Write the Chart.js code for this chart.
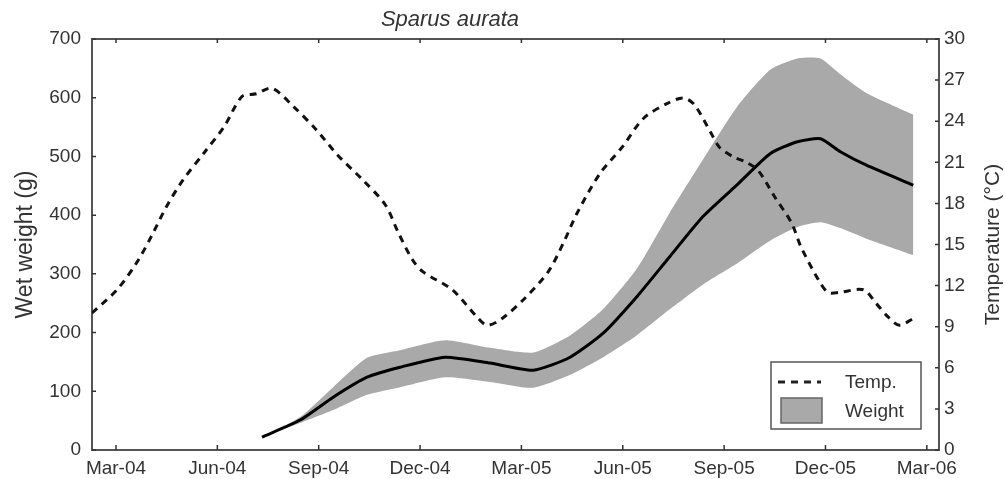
<!DOCTYPE html>
<html>
<head>
<meta charset="utf-8">
<title>Sparus aurata</title>
<script src="https://cdn.jsdelivr.net/npm/chart.js@4.4.1/dist/chart.umd.min.js"></script>
<style>
  html, body { margin: 0; padding: 0; background: #fff; }
  canvas { display: block; }
</style>
</head>
<body>
<canvas id="fishChart" width="1006" height="479"></canvas>
<script>
// x values are months counted from Jan-04 (Jan-04 = 0)
var tickMonths = [2, 5, 8, 11, 14, 17, 20, 23, 26];
var tickLabels = ['Mar-04', 'Jun-04', 'Sep-04', 'Dec-04', 'Mar-05', 'Jun-05', 'Sep-05', 'Dec-05', 'Mar-06'];

// water temperature (deg C)
var tempMonths = [1.29, 2.03, 2.62, 3.07, 3.48, 3.98, 4.61, 5.20, 5.73, 6.15, 6.62, 7.24, 7.92, 8.57, 9.31, 9.97,
    10.35, 10.77, 11.09, 11.95, 12.69, 12.99, 13.43, 14.11, 14.79, 15.24, 15.65, 16.33, 16.98, 17.61, 18.32,
    18.79, 19.12, 19.62, 19.86, 20.27, 20.66, 21.01, 21.49, 21.99, 22.28, 22.82, 23.08, 23.41, 24.12, 24.50,
    24.86, 25.19, 25.60];
var tempValues = [10.0, 11.7, 13.7, 15.7, 17.7, 19.7, 21.7, 23.6, 25.8, 26.0, 26.4, 25.1, 23.4, 21.5, 19.7, 17.9,
    15.9, 13.9, 13.0, 11.7, 9.7, 9.1, 9.6, 11.1, 13.0, 15.1, 17.3, 20.2, 22.1, 24.2, 25.3,
    25.7, 25.2, 23.1, 22.1, 21.4, 21.0, 20.4, 18.5, 16.6, 14.8, 12.3, 11.5, 11.5, 11.7, 10.7,
    9.7, 9.1, 9.6];

// wet weight (g): mean and envelope
var weightMonths = [6.32, 7.45, 8.43, 9.43, 10.41, 11.74, 13.07, 14.35, 15.44, 16.42, 17.43, 18.40, 19.38,
    20.39, 21.37, 22.17, 22.85, 23.44, 24.21, 25.60];
var weightMean  = [22, 51, 90, 124, 141, 158, 148, 136, 158, 199, 262, 330, 398, 452, 505, 525, 530, 508, 485, 451];
var weightUpper = [22, 56, 107, 157, 170, 187, 174, 166, 195, 240, 310, 405, 495, 585, 648, 667, 667, 640, 608, 571];
var weightLower = [22, 46, 68, 94, 107, 124, 116, 106, 128, 158, 196, 240, 282, 318, 357, 380, 388, 378, 360, 332];

var FONT = "'Liberation Sans', Arial, sans-serif";
var TEXT = '#333';
var AXIS = '#555';
var BAND = '#a9a9a9';

function pts(xs, ys) {
    return xs.map(function(x, i) { return { x: x, y: ys[i] }; });
}

// frame on top, inward tick marks, title, right axis title and the legend box
var decorPlugin = {
    id: 'decor',
    afterDraw: function(chart) {
        var ctx = chart.ctx;
        var a = chart.chartArea;
        var sx = chart.scales.x, sy = chart.scales.y, sy2 = chart.scales.y2;
        ctx.save();
        ctx.strokeStyle = AXIS;
        ctx.lineWidth = 2;
        ctx.beginPath();
        ctx.moveTo(a.left - 1, a.top);
        ctx.lineTo(a.right + 1, a.top);
        ctx.stroke();

        ctx.lineWidth = 1.5;
        ctx.strokeStyle = '#333';
        ctx.beginPath();
        tickMonths.forEach(function(m) {
            var px = sx.getPixelForValue(m);
            ctx.moveTo(px, a.bottom); ctx.lineTo(px, a.bottom - 5);
            ctx.moveTo(px, a.top); ctx.lineTo(px, a.top + 4);
        });
        sy.ticks.forEach(function(t) {
            var py = sy.getPixelForValue(t.value);
            ctx.moveTo(a.left, py); ctx.lineTo(a.left + 4, py);
        });
        sy2.ticks.forEach(function(t) {
            var py = sy2.getPixelForValue(t.value);
            ctx.moveTo(a.right, py); ctx.lineTo(a.right - 4, py);
        });
        ctx.stroke();

        // title
        ctx.fillStyle = TEXT;
        ctx.font = 'italic 22px ' + FONT;
        ctx.textAlign = 'center';
        ctx.textBaseline = 'middle';
        ctx.fillText('Sparus aurata', 450, 20);

        // right axis title, reading bottom to top
        ctx.save();
        ctx.translate(993, (a.top + a.bottom) / 2);
        ctx.rotate(-Math.PI / 2);
        ctx.font = '21px ' + FONT;
        ctx.fillText('Temperature (\u00b0C)', 0, 0);
        ctx.restore();

        // legend
        var bx = a.right - 168, by = a.bottom - 88, bw = 150, bh = 67;
        ctx.fillStyle = '#fff';
        ctx.fillRect(bx, by, bw, bh);
        ctx.strokeStyle = AXIS;
        ctx.lineWidth = 1.5;
        ctx.strokeRect(bx, by, bw, bh);

        ctx.strokeStyle = '#222';
        ctx.lineWidth = 3;
        ctx.setLineDash([7, 6]);
        ctx.beginPath();
        ctx.moveTo(bx + 7, by + 20);
        ctx.lineTo(bx + 50, by + 20);
        ctx.stroke();
        ctx.setLineDash([]);

        ctx.fillStyle = BAND;
        ctx.fillRect(bx + 10, by + 36, 41, 25);
        ctx.strokeStyle = '#666';
        ctx.lineWidth = 1.5;
        ctx.strokeRect(bx + 10, by + 36, 41, 25);

        ctx.fillStyle = TEXT;
        ctx.font = '19px ' + FONT;
        ctx.textAlign = 'left';
        ctx.fillText('Temp.', bx + 74, by + 21);
        ctx.fillText('Weight', bx + 74, by + 50);
        ctx.restore();
    }
};

var ctx = document.getElementById('fishChart').getContext('2d');
var chart = new Chart(ctx, {
    type: 'line',
    data: {
        datasets: [
            {
                label: 'Temp.',
                data: pts(tempMonths, tempValues),
                yAxisID: 'y2',
                borderColor: '#111',
                borderWidth: 3,
                borderDash: [7, 6],
                pointRadius: 0,
                tension: 0.3,
                fill: false
            },
            {
                label: 'Mean weight',
                data: pts(weightMonths, weightMean),
                yAxisID: 'y',
                borderColor: '#000',
                borderWidth: 3,
                pointRadius: 0,
                tension: 0.2,
                fill: false
            },
            {
                label: 'Weight',
                data: pts(weightMonths, weightUpper),
                yAxisID: 'y',
                borderWidth: 0,
                borderColor: BAND,
                backgroundColor: BAND,
                pointRadius: 0,
                tension: 0.2,
                fill: '+1'
            },
            {
                label: 'Weight low',
                data: pts(weightMonths, weightLower),
                yAxisID: 'y',
                borderWidth: 0,
                borderColor: BAND,
                pointRadius: 0,
                tension: 0.2,
                fill: false
            }
        ]
    },
    options: {
        responsive: false,
        animation: false,
        layout: { padding: { top: 39, left: 0, right: 0, bottom: 0 } },
        plugins: {
            legend: { display: false },
            tooltip: { enabled: false },
            title: { display: false }
        },
        scales: {
            x: {
                type: 'linear',
                min: 1.29,
                max: 26.36,
                afterBuildTicks: function(s) {
                    s.ticks = tickMonths.map(function(m) { return { value: m }; });
                },
                afterFit: function(s) { s.height = 29; },
                grid: { display: false, drawTicks: false },
                border: { display: true, color: AXIS, width: 2 },
                ticks: {
                    autoSkip: false,
                    maxRotation: 0,
                    padding: 7,
                    color: TEXT,
                    font: { family: FONT, size: 19 },
                    callback: function(v, i) { return tickLabels[i]; }
                }
            },
            y: {
                position: 'left',
                min: 0,
                max: 700,
                afterFit: function(s) { s.width = 92; },
                grid: { display: false, drawTicks: false },
                border: { display: true, color: AXIS, width: 2 },
                ticks: {
                    stepSize: 100,
                    padding: 11,
                    color: TEXT,
                    font: { family: FONT, size: 19 }
                },
                title: {
                    display: true,
                    text: 'Wet weight (g)',
                    color: TEXT,
                    padding: { top: 12, bottom: 0 },
                    font: { family: FONT, size: 23 }
                }
            },
            y2: {
                position: 'right',
                min: 0,
                max: 30,
                afterFit: function(s) { s.width = 67; },
                grid: { display: false, drawTicks: false },
                border: { display: true, color: AXIS, width: 2 },
                ticks: {
                    stepSize: 3,
                    padding: 5,
                    color: TEXT,
                    font: { family: FONT, size: 19 }
                }
            }
        }
    },
    plugins: [decorPlugin]
});
</script>
</body>
</html>
